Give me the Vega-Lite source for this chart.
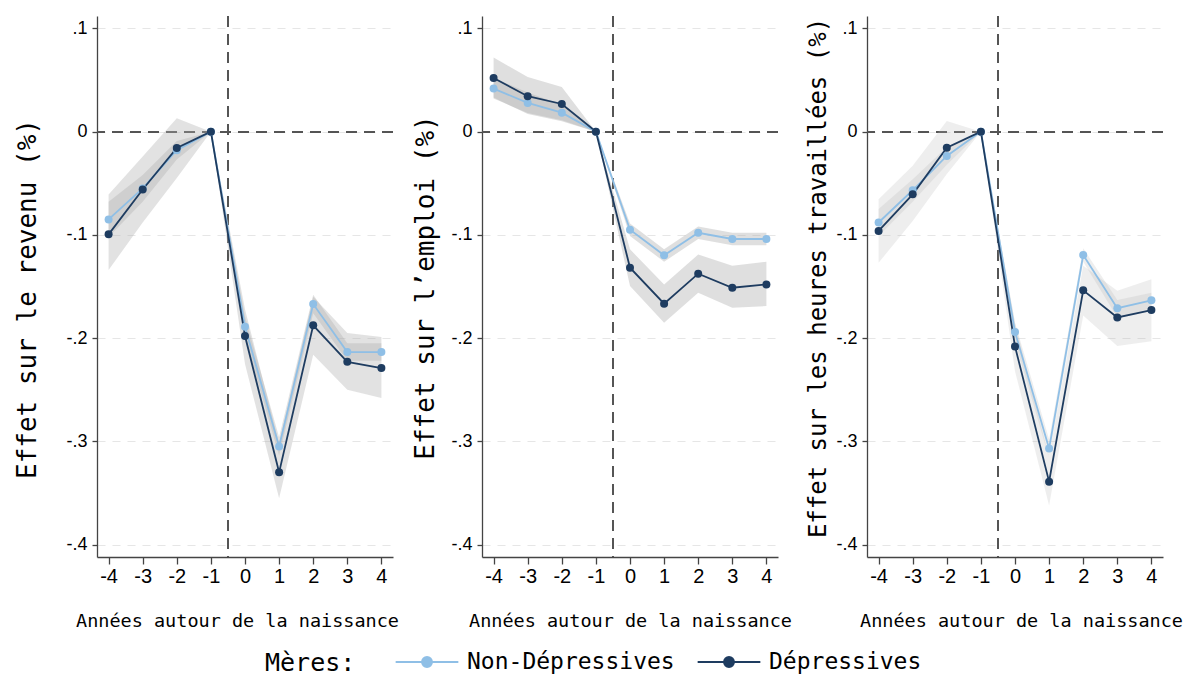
{
  "$schema": "https://vega.github.io/schema/vega-lite/v6.json",
  "padding": {"left": 14, "top": 15, "right": 5, "bottom": 0},
  "background": "white",
  "datasets": {
    "d": [
      {"p": 1, "g": "Non-Dépressives", "t": -4, "est": -0.085, "lo": -0.102, "hi": -0.068},
      {"p": 1, "g": "Non-Dépressives", "t": -3, "est": -0.055, "lo": -0.068, "hi": -0.042},
      {"p": 1, "g": "Non-Dépressives", "t": -2, "est": -0.018, "lo": -0.027, "hi": -0.009},
      {"p": 1, "g": "Non-Dépressives", "t": -1, "est": 0, "lo": 0, "hi": 0},
      {"p": 1, "g": "Non-Dépressives", "t": 0, "est": -0.189, "lo": -0.199, "hi": -0.179},
      {"p": 1, "g": "Non-Dépressives", "t": 1, "est": -0.305, "lo": -0.314, "hi": -0.296},
      {"p": 1, "g": "Non-Dépressives", "t": 2, "est": -0.167, "lo": -0.176, "hi": -0.158},
      {"p": 1, "g": "Non-Dépressives", "t": 3, "est": -0.2135, "lo": -0.222, "hi": -0.205},
      {"p": 1, "g": "Non-Dépressives", "t": 4, "est": -0.2135, "lo": -0.222, "hi": -0.205},
      {"p": 1, "g": "Dépressives", "t": -4, "est": -0.0995, "lo": -0.134, "hi": -0.061},
      {"p": 1, "g": "Dépressives", "t": -3, "est": -0.056, "lo": -0.088, "hi": -0.024},
      {"p": 1, "g": "Dépressives", "t": -2, "est": -0.0158, "lo": -0.045, "hi": 0.013},
      {"p": 1, "g": "Dépressives", "t": -1, "est": 0, "lo": 0, "hi": 0},
      {"p": 1, "g": "Dépressives", "t": 0, "est": -0.198, "lo": -0.225, "hi": -0.172},
      {"p": 1, "g": "Dépressives", "t": 1, "est": -0.33, "lo": -0.355, "hi": -0.302},
      {"p": 1, "g": "Dépressives", "t": 2, "est": -0.1876, "lo": -0.216, "hi": -0.16},
      {"p": 1, "g": "Dépressives", "t": 3, "est": -0.223, "lo": -0.25, "hi": -0.195},
      {"p": 1, "g": "Dépressives", "t": 4, "est": -0.229, "lo": -0.258, "hi": -0.199},
      {"p": 2, "g": "Non-Dépressives", "t": -4, "est": 0.0417, "lo": 0.032, "hi": 0.052},
      {"p": 2, "g": "Non-Dépressives", "t": -3, "est": 0.0278, "lo": 0.018, "hi": 0.038},
      {"p": 2, "g": "Non-Dépressives", "t": -2, "est": 0.0184, "lo": 0.011, "hi": 0.026},
      {"p": 2, "g": "Non-Dépressives", "t": -1, "est": 0, "lo": 0, "hi": 0},
      {"p": 2, "g": "Non-Dépressives", "t": 0, "est": -0.095, "lo": -0.101, "hi": -0.089},
      {"p": 2, "g": "Non-Dépressives", "t": 1, "est": -0.1198, "lo": -0.126, "hi": -0.114},
      {"p": 2, "g": "Non-Dépressives", "t": 2, "est": -0.098, "lo": -0.104, "hi": -0.092},
      {"p": 2, "g": "Non-Dépressives", "t": 3, "est": -0.104, "lo": -0.11, "hi": -0.098},
      {"p": 2, "g": "Non-Dépressives", "t": 4, "est": -0.104, "lo": -0.11, "hi": -0.098},
      {"p": 2, "g": "Dépressives", "t": -4, "est": 0.052, "lo": 0.033, "hi": 0.0717},
      {"p": 2, "g": "Dépressives", "t": -3, "est": 0.0343, "lo": 0.017, "hi": 0.053},
      {"p": 2, "g": "Dépressives", "t": -2, "est": 0.0268, "lo": 0.01, "hi": 0.0433},
      {"p": 2, "g": "Dépressives", "t": -1, "est": 0, "lo": 0, "hi": 0},
      {"p": 2, "g": "Dépressives", "t": 0, "est": -0.1318, "lo": -0.1495, "hi": -0.114},
      {"p": 2, "g": "Dépressives", "t": 1, "est": -0.1667, "lo": -0.185, "hi": -0.148},
      {"p": 2, "g": "Dépressives", "t": 2, "est": -0.1376, "lo": -0.156, "hi": -0.119},
      {"p": 2, "g": "Dépressives", "t": 3, "est": -0.1512, "lo": -0.1705, "hi": -0.13},
      {"p": 2, "g": "Dépressives", "t": 4, "est": -0.148, "lo": -0.169, "hi": -0.126},
      {"p": 3, "g": "Non-Dépressives", "t": -4, "est": -0.088, "lo": -0.101, "hi": -0.075},
      {"p": 3, "g": "Non-Dépressives", "t": -3, "est": -0.0568, "lo": -0.068, "hi": -0.046},
      {"p": 3, "g": "Non-Dépressives", "t": -2, "est": -0.0235, "lo": -0.032, "hi": -0.015},
      {"p": 3, "g": "Non-Dépressives", "t": -1, "est": 0, "lo": 0, "hi": 0},
      {"p": 3, "g": "Non-Dépressives", "t": 0, "est": -0.194, "lo": -0.203, "hi": -0.185},
      {"p": 3, "g": "Non-Dépressives", "t": 1, "est": -0.307, "lo": -0.316, "hi": -0.298},
      {"p": 3, "g": "Non-Dépressives", "t": 2, "est": -0.1195, "lo": -0.126, "hi": -0.113},
      {"p": 3, "g": "Non-Dépressives", "t": 3, "est": -0.171, "lo": -0.18, "hi": -0.163},
      {"p": 3, "g": "Non-Dépressives", "t": 4, "est": -0.1634, "lo": -0.171, "hi": -0.156},
      {"p": 3, "g": "Dépressives", "t": -4, "est": -0.0962, "lo": -0.127, "hi": -0.0655},
      {"p": 3, "g": "Dépressives", "t": -3, "est": -0.0607, "lo": -0.0866, "hi": -0.033},
      {"p": 3, "g": "Dépressives", "t": -2, "est": -0.0155, "lo": -0.041, "hi": 0.0104},
      {"p": 3, "g": "Dépressives", "t": -1, "est": 0, "lo": 0, "hi": 0},
      {"p": 3, "g": "Dépressives", "t": 0, "est": -0.208, "lo": -0.232, "hi": -0.185},
      {"p": 3, "g": "Dépressives", "t": 1, "est": -0.339, "lo": -0.362, "hi": -0.316},
      {"p": 3, "g": "Dépressives", "t": 2, "est": -0.1537, "lo": -0.178, "hi": -0.13},
      {"p": 3, "g": "Dépressives", "t": 3, "est": -0.18, "lo": -0.2077, "hi": -0.154},
      {"p": 3, "g": "Dépressives", "t": 4, "est": -0.1728, "lo": -0.203, "hi": -0.143}
    ]
  },
  "data": {"name": "d"},
  "spacing": 89,
  "bounds": "flush",
  "resolve": {"scale": {"color": "shared"}, "legend": {"color": "shared"}},
  "hconcat": [
    {
      "width": 296, "height": 541,
      "transform": [{"filter": "datum.p == 1"}],
      "layer": [
        {"mark": {"type": "rule", "color": "#555555", "strokeDash": [11, 7], "strokeWidth": 1.3}, "encoding": {"y": {"datum": 0, "type": "quantitative", "scale": {"domain": [-0.412, 0.112], "nice": false, "zero": false},
                  "axis": {"title": "Effet sur le revenu (%)", "titleX": -61.7, "titleY": 282.5, "titleFontSize": 26, "values": [-0.4, -0.3, -0.2, -0.1, 0, 0.1], "labelExpr": "datum.value == 0 ? '0' : (datum.value < 0 ? '-' : '') + '.' + round(abs(datum.value) * 10)"}}}},
        {"mark": {"type": "rule", "color": "#555555", "strokeDash": [11, 7], "strokeWidth": 1.3}, "encoding": {"x": {"datum": -0.5, "type": "quantitative", "scale": {"domain": [-4.34, 4.34], "nice": false, "zero": false},
                  "axis": {"title": "Années autour de la naissance", "titleX": 140, "titleY": 69, "values": [-4, -3, -2, -1, 0, 1, 2, 3, 4], "labelExpr": "(datum.value < 0 ? '-' : '') + abs(datum.value)"}}}},
        {
          "encoding": {
            "x": {"field": "t", "type": "quantitative", "scale": {"domain": [-4.34, 4.34], "nice": false, "zero": false},
                  "axis": {"title": "Années autour de la naissance", "titleX": 140, "titleY": 69, "values": [-4, -3, -2, -1, 0, 1, 2, 3, 4], "labelExpr": "(datum.value < 0 ? '-' : '') + abs(datum.value)"}},
            "y": {"field": "est", "type": "quantitative", "scale": {"domain": [-0.412, 0.112], "nice": false, "zero": false},
                  "axis": {"title": "Effet sur le revenu (%)", "titleX": -61.7, "titleY": 282.5, "titleFontSize": 26, "values": [-0.4, -0.3, -0.2, -0.1, 0, 0.1], "labelExpr": "datum.value == 0 ? '0' : (datum.value < 0 ? '-' : '') + '.' + round(abs(datum.value) * 10)"}}
          },
          "layer": [
            {"mark": {"type": "area", "color": "#b0b0b0", "opacity": 0.36}, "encoding": {"y": {"field": "lo", "type": "quantitative", "title": "Effet sur le revenu (%)"}, "y2": {"field": "hi"}, "detail": {"field": "g"}}},
            {"mark": {"type": "line", "strokeWidth": 1.8}, "encoding": {"color": {"field": "g", "type": "nominal", "title": "Mères:", "scale": {"domain": ["Non-Dépressives", "Dépressives"], "range": ["#8fbfe6", "#1e3c60"]}, "legend": {"title": "Mères:"}}}},
            {"mark": {"type": "point", "filled": true, "size": 64, "opacity": 1}, "encoding": {"color": {"field": "g", "type": "nominal", "title": "Mères:"}}}
          ]
        }
      ]
    },
    {
      "width": 296, "height": 541,
      "transform": [{"filter": "datum.p == 2"}],
      "layer": [
        {"mark": {"type": "rule", "color": "#555555", "strokeDash": [11, 7], "strokeWidth": 1.3}, "encoding": {"y": {"datum": 0, "type": "quantitative", "scale": {"domain": [-0.412, 0.112], "nice": false, "zero": false},
                  "axis": {"title": "Effet sur l’emploi (%)", "titleX": -48.7, "titleY": 271, "titleFontSize": 26, "values": [-0.4, -0.3, -0.2, -0.1, 0, 0.1], "labelExpr": "datum.value == 0 ? '0' : (datum.value < 0 ? '-' : '') + '.' + round(abs(datum.value) * 10)"}}}},
        {"mark": {"type": "rule", "color": "#555555", "strokeDash": [11, 7], "strokeWidth": 1.3}, "encoding": {"x": {"datum": -0.5, "type": "quantitative", "scale": {"domain": [-4.34, 4.34], "nice": false, "zero": false},
                  "axis": {"title": "Années autour de la naissance", "titleX": 148, "titleY": 69, "values": [-4, -3, -2, -1, 0, 1, 2, 3, 4], "labelExpr": "(datum.value < 0 ? '-' : '') + abs(datum.value)"}}}},
        {
          "encoding": {
            "x": {"field": "t", "type": "quantitative", "scale": {"domain": [-4.34, 4.34], "nice": false, "zero": false},
                  "axis": {"title": "Années autour de la naissance", "titleX": 148, "titleY": 69, "values": [-4, -3, -2, -1, 0, 1, 2, 3, 4], "labelExpr": "(datum.value < 0 ? '-' : '') + abs(datum.value)"}},
            "y": {"field": "est", "type": "quantitative", "scale": {"domain": [-0.412, 0.112], "nice": false, "zero": false},
                  "axis": {"title": "Effet sur l’emploi (%)", "titleX": -48.7, "titleY": 271, "titleFontSize": 26, "values": [-0.4, -0.3, -0.2, -0.1, 0, 0.1], "labelExpr": "datum.value == 0 ? '0' : (datum.value < 0 ? '-' : '') + '.' + round(abs(datum.value) * 10)"}}
          },
          "layer": [
            {"mark": {"type": "area", "color": "#b0b0b0", "opacity": 0.4}, "encoding": {"y": {"field": "lo", "type": "quantitative", "title": "Effet sur l’emploi (%)"}, "y2": {"field": "hi"}, "detail": {"field": "g"}}},
            {"mark": {"type": "line", "strokeWidth": 1.8}, "encoding": {"color": {"field": "g", "type": "nominal", "title": "Mères:", "scale": {"domain": ["Non-Dépressives", "Dépressives"], "range": ["#8fbfe6", "#1e3c60"]}}}},
            {"mark": {"type": "point", "filled": true, "size": 64, "opacity": 1}, "encoding": {"color": {"field": "g", "type": "nominal", "title": "Mères:"}}}
          ]
        }
      ]
    },
    {
      "width": 296, "height": 541,
      "transform": [{"filter": "datum.p == 3"}],
      "layer": [
        {"mark": {"type": "rule", "color": "#555555", "strokeDash": [11, 7], "strokeWidth": 1.3}, "encoding": {"y": {"datum": 0, "type": "quantitative", "scale": {"domain": [-0.412, 0.112], "nice": false, "zero": false},
                  "axis": {"title": "Effet sur les heures travaillées (%)", "titleX": -42, "titleY": 261.5, "titleFontSize": 24, "values": [-0.4, -0.3, -0.2, -0.1, 0, 0.1], "labelExpr": "datum.value == 0 ? '0' : (datum.value < 0 ? '-' : '') + '.' + round(abs(datum.value) * 10)"}}}},
        {"mark": {"type": "rule", "color": "#555555", "strokeDash": [11, 7], "strokeWidth": 1.3}, "encoding": {"x": {"datum": -0.5, "type": "quantitative", "scale": {"domain": [-4.34, 4.34], "nice": false, "zero": false},
                  "axis": {"title": "Années autour de la naissance", "titleX": 154, "titleY": 69, "values": [-4, -3, -2, -1, 0, 1, 2, 3, 4], "labelExpr": "(datum.value < 0 ? '-' : '') + abs(datum.value)"}}}},
        {
          "encoding": {
            "x": {"field": "t", "type": "quantitative", "scale": {"domain": [-4.34, 4.34], "nice": false, "zero": false},
                  "axis": {"title": "Années autour de la naissance", "titleX": 154, "titleY": 69, "values": [-4, -3, -2, -1, 0, 1, 2, 3, 4], "labelExpr": "(datum.value < 0 ? '-' : '') + abs(datum.value)"}},
            "y": {"field": "est", "type": "quantitative", "scale": {"domain": [-0.412, 0.112], "nice": false, "zero": false},
                  "axis": {"title": "Effet sur les heures travaillées (%)", "titleX": -42, "titleY": 261.5, "titleFontSize": 24, "values": [-0.4, -0.3, -0.2, -0.1, 0, 0.1], "labelExpr": "datum.value == 0 ? '0' : (datum.value < 0 ? '-' : '') + '.' + round(abs(datum.value) * 10)"}}
          },
          "layer": [
            {"mark": {"type": "area", "color": "#b0b0b0", "opacity": 0.22}, "encoding": {"y": {"field": "lo", "type": "quantitative", "title": "Effet sur les heures travaillées (%)"}, "y2": {"field": "hi"}, "detail": {"field": "g"}}},
            {"mark": {"type": "line", "strokeWidth": 1.8}, "encoding": {"color": {"field": "g", "type": "nominal", "title": "Mères:", "scale": {"domain": ["Non-Dépressives", "Dépressives"], "range": ["#8fbfe6", "#1e3c60"]}}}},
            {"mark": {"type": "point", "filled": true, "size": 64, "opacity": 1}, "encoding": {"color": {"field": "g", "type": "nominal", "title": "Mères:"}}}
          ]
        }
      ]
    }
  ],
  "config": {
    "view": {"stroke": null},
    "axisX": {"grid": false, "domainColor": "#444444", "domainWidth": 1.3, "tickColor": "#444444", "tickWidth": 1.3, "tickSize": 7, "labelFont": "Liberation Sans", "labelFontSize": 20, "labelColor": "#000000", "labelPadding": 2, "labelOverlap": false, "labelFlush": false, "titleFont": "DejaVu Sans Mono", "titleFontSize": 18.5, "titleFontWeight": "normal", "titleColor": "#000000", "titleBaseline": "alphabetic", "titleAlign": "center"},
    "axisY": {"grid": true, "gridColor": "#e6e6e6", "gridDash": [8, 7], "gridWidth": 1.2, "domainColor": "#444444", "domainWidth": 1.3, "tickColor": "#444444", "tickWidth": 1.3, "tickSize": 5, "labelFont": "Liberation Sans", "labelFontSize": 18, "labelColor": "#000000", "labelPadding": 5, "labelOverlap": false, "labelFlush": false, "titleFont": "DejaVu Sans Mono", "titleFontWeight": "normal", "titleColor": "#000000", "titleBaseline": "alphabetic", "titleAlign": "center", "titleAngle": 270},
    "legend": {
      "orient": "none", "legendX": 168, "legendY": 612, "direction": "horizontal",
      "titleOrient": "left", "titleAnchor": "middle", "titleBaseline": "top", "titleFont": "DejaVu Sans Mono", "titleFontSize": 25, "titleFontWeight": "normal", "titleColor": "#000000", "titlePadding": 37, "titleLimit": 0,
      "labelFont": "DejaVu Sans Mono", "labelFontSize": 23, "labelColor": "#000000", "labelOffset": 6, "columnPadding": 18, "labelLimit": 0,
      "symbolType": "M-0.95,0L0.95,0M0.15,0A0.15,0.15,0,1,1,-0.15,0A0.15,0.15,0,1,1,0.15,0", "symbolSize": 4356, "symbolStrokeWidth": 2, "symbolOpacity": 1
    }
  }
}
